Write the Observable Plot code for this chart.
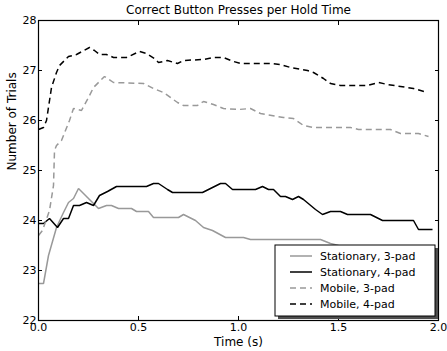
<!DOCTYPE html>
<html>
<head>
<meta charset="utf-8">
<script src="https://cdn.jsdelivr.net/npm/d3@7"></script>
<script src="https://cdn.jsdelivr.net/npm/@observablehq/plot@0.6"></script>
<style>
  html, body { margin: 0; padding: 0; background: #fff; }
</style>
</head>
<body>
<div id="chart"></div>
<script>
const title = "Correct Button Presses per Hold Time";
const xLabel = "Time (s)";
const yLabel = "Number of Trials";
const seriesNames = ["Stationary, 3-pad", "Stationary, 4-pad", "Mobile, 3-pad", "Mobile, 4-pad"];
const xTicks = [0, 0.5, 1.0, 1.5, 2.0];
const yTicks = [22, 23, 24, 25, 26, 27, 28];

const stat3X = [0, 0.025, 0.05, 0.09, 0.125, 0.15, 0.175, 0.2, 0.24, 0.275, 0.3, 0.34, 0.365, 0.4, 0.465, 0.49, 0.55, 0.575, 0.7, 0.725, 0.785, 0.825, 0.87, 0.935, 1.025, 1.06, 1.41, 1.46, 1.5, 1.95];
const stat3Y = [22.74, 22.74, 23.3, 23.86, 24.16, 24.36, 24.44, 24.64, 24.48, 24.34, 24.24, 24.3, 24.3, 24.24, 24.24, 24.18, 24.18, 24.06, 24.06, 24.12, 24.0, 23.86, 23.8, 23.66, 23.66, 23.62, 23.62, 23.54, 23.5, 23.4];

const stat4X = [0, 0.025, 0.055, 0.095, 0.125, 0.15, 0.175, 0.205, 0.24, 0.275, 0.305, 0.345, 0.39, 0.54, 0.575, 0.6, 0.645, 0.67, 0.82, 0.91, 0.935, 0.97, 1.085, 1.12, 1.15, 1.175, 1.21, 1.235, 1.27, 1.3, 1.325, 1.385, 1.42, 1.46, 1.51, 1.545, 1.66, 1.72, 1.875, 1.9, 1.97];
const stat4Y = [23.94, 23.94, 24.04, 23.86, 24.04, 24.04, 24.3, 24.3, 24.36, 24.3, 24.5, 24.58, 24.68, 24.68, 24.74, 24.74, 24.62, 24.56, 24.56, 24.74, 24.74, 24.62, 24.62, 24.68, 24.62, 24.62, 24.48, 24.48, 24.42, 24.48, 24.42, 24.22, 24.12, 24.18, 24.18, 24.12, 24.12, 24.0, 24.0, 23.82, 23.82];

const mob3X = [0, 0.02, 0.055, 0.075, 0.08, 0.09, 0.115, 0.155, 0.175, 0.215, 0.25, 0.275, 0.33, 0.375, 0.525, 0.575, 0.625, 0.695, 0.725, 0.795, 0.825, 0.875, 0.925, 1.0, 1.06, 1.11, 1.225, 1.275, 1.325, 1.375, 1.56, 1.6, 1.76, 1.81, 1.9, 1.95];
const mob3Y = [23.7, 23.8, 24.2, 24.7, 25.4, 25.5, 25.6, 26.0, 26.24, 26.2, 26.46, 26.66, 26.88, 26.76, 26.74, 26.64, 26.56, 26.36, 26.3, 26.3, 26.38, 26.32, 26.24, 26.22, 26.24, 26.14, 26.06, 26.04, 25.9, 25.86, 25.86, 25.82, 25.82, 25.74, 25.74, 25.68];

const mob4X = [0, 0.025, 0.04, 0.065, 0.09, 0.105, 0.15, 0.19, 0.255, 0.28, 0.305, 0.34, 0.375, 0.44, 0.505, 0.54, 0.58, 0.6, 0.645, 0.695, 0.725, 0.825, 0.875, 0.925, 0.975, 1.01, 1.16, 1.21, 1.26, 1.345, 1.375, 1.425, 1.46, 1.51, 1.645, 1.7, 1.745, 1.81, 1.875, 1.945];
const mob4Y = [25.82, 25.86, 26.0, 26.66, 26.96, 27.1, 27.28, 27.32, 27.46, 27.4, 27.32, 27.32, 27.26, 27.26, 27.38, 27.34, 27.24, 27.16, 27.2, 27.14, 27.2, 27.22, 27.26, 27.26, 27.18, 27.14, 27.14, 27.12, 27.06, 27.0, 26.96, 26.84, 26.74, 26.7, 26.7, 26.76, 26.72, 26.68, 26.64, 26.56];

const seriesX = [stat3X, stat4X, mob3X, mob4X];
const seriesY = [stat3Y, stat4Y, mob3Y, mob4Y];
const seriesColor = ["#999999", "#000000", "#999999", "#000000"];
const seriesDash = [null, null, "6,4", "6,4"];

const rows = seriesNames.map((name, i) => seriesX[i].map((x, j) => ({x, y: seriesY[i][j], s: name})));

const fontFamily = "'DejaVu Sans', sans-serif";

const chart = Plot.plot({
  width: 447,
  height: 351,
  marginLeft: 38,
  marginRight: 9,
  marginTop: 20,
  marginBottom: 31,
  style: {fontFamily, fontSize: "11px", background: "#fff", color: "#000"},
  x: {domain: [0, 2], label: null},
  y: {domain: [22, 28], label: null},
  marks: [
    ...rows.map((data, i) => Plot.line(data, {
      x: "x", y: "y",
      stroke: seriesColor[i],
      strokeWidth: 1.5,
      strokeDasharray: seriesDash[i],
      strokeLinejoin: "miter",
      strokeLinecap: "butt"
    })),
    Plot.frame({stroke: "#000", strokeWidth: 1.2}),
    Plot.axisX(xTicks, {anchor: "bottom", tickSize: -4, tickPadding: 7, tickFormat: d3.format(".1f"), label: null, fontSize: 11}),
    Plot.axisX(xTicks, {anchor: "top", tickSize: -4, tickFormat: () => "", label: null}),
    Plot.axisY(yTicks, {anchor: "left", tickSize: -4, tickPadding: 6, tickFormat: d3.format("d"), label: null, fontSize: 11}),
    Plot.axisY(yTicks, {anchor: "right", tickSize: -4, tickFormat: () => "", label: null}),
    Plot.text([title], {frameAnchor: "top", dy: -10, lineAnchor: "middle", fontSize: 12, text: d => d}),
    Plot.text([xLabel], {frameAnchor: "bottom", dy: 22, lineAnchor: "middle", fontSize: 12, text: d => d}),
    Plot.text([yLabel], {frameAnchor: "left", dx: -26, rotate: -90, lineAnchor: "middle", fontSize: 12, text: d => d})
  ]
});

document.getElementById("chart").appendChild(chart);

// Legend (matplotlib-style box with shadow), lower right
const svg = d3.select(chart);
const lg = svg.append("g").attr("font-family", fontFamily).attr("font-size", 11).attr("text-anchor", "start");
const bx = 275, by = 245, bw = 160, bh = 71;
lg.append("rect").attr("x", bx + 3).attr("y", by + 3).attr("width", bw).attr("height", bh).attr("fill", "#4d4d4d");
lg.append("rect").attr("x", bx).attr("y", by).attr("width", bw).attr("height", bh).attr("fill", "#fff").attr("stroke", "#000").attr("stroke-width", 1);
seriesNames.forEach((name, i) => {
  const yy = by + 11 + i * 16;
  lg.append("line").attr("x1", bx + 15).attr("x2", bx + 37).attr("y1", yy).attr("y2", yy)
    .attr("stroke", seriesColor[i]).attr("stroke-width", 1.5)
    .attr("stroke-dasharray", seriesDash[i]);
  lg.append("text").attr("x", bx + 45).attr("y", yy).attr("dy", "0.35em").attr("text-anchor", "start").text(name);
});
</script>
</body>
</html>
